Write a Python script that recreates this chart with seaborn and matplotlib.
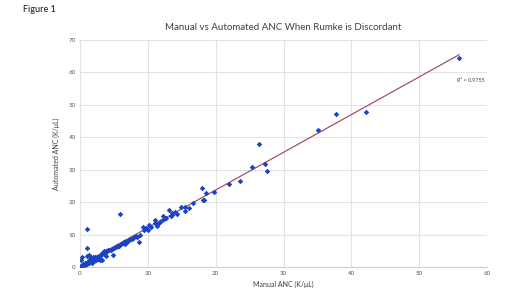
import matplotlib
matplotlib.use("Agg")
import matplotlib.pyplot as plt
import seaborn as sns
import pandas as pd
import numpy as np

manual = [
    0.0, 0.1, 0.15, 0.25, 0.4, 0.5, 0.7, 0.8, 1.0, 1.03, 1.03, 1.1, 1.2, 1.3, 1.3, 1.4,
    1.5, 1.6, 1.7, 1.8, 1.9, 2.0, 2.1, 2.2, 2.3, 2.5, 2.6, 2.8, 2.9, 3.0, 3.1, 3.2,
    3.3, 3.5, 3.6, 3.8, 3.8, 3.9, 4.0, 4.2, 4.3, 4.5, 4.7, 4.93, 5.0, 5.3, 5.5, 5.6,
    5.8, 5.96, 6.1, 6.3, 6.5, 6.6, 6.8, 7.0, 7.2, 7.4, 7.6, 7.8, 8.0, 8.2, 8.4, 8.7,
    8.9, 9.26, 9.5, 9.8, 10.0, 10.2, 10.5, 11.0, 11.0, 11.3, 11.7, 12.0, 12.2, 12.4,
    12.7, 13.1, 13.4, 13.5, 13.6, 14.0, 14.3, 14.9, 15.5, 15.5, 16.0, 16.6, 18.0,
    18.2, 18.3, 18.6, 19.8, 22.0, 23.6, 25.4, 26.4, 27.3, 27.6, 35.1, 37.8, 42.2, 55.9,
]
automated = [
    0.0, 0.3, 2.1, 3.1, 0.5, 1.0, 0.6, 1.2, 3.5, 11.6, 6.0, 0.8, 1.5, 3.7, 2.2, 1.1,
    1.8, 2.8, 1.3, 2.5, 3.1, 1.9, 2.6, 3.2, 2.1, 3.0, 2.4, 3.4, 2.5, 2.2, 3.6, 4.4,
    2.3, 4.1, 4.8, 4.5, 3.3, 4.9, 5.0, 5.3, 5.2, 5.1, 5.6, 3.6, 5.8, 6.2, 6.5, 6.4,
    6.6, 16.4, 7.0, 7.3, 7.6, 7.2, 8.0, 7.8, 8.4, 8.7, 8.5, 9.0, 9.1, 9.6, 9.1, 7.6,
    10.0, 12.2, 11.3, 11.9, 11.5, 12.9, 12.4, 13.5, 14.4, 12.7, 13.5, 14.3, 15.6,
    14.8, 15.2, 17.7, 15.8, 16.5, 16.1, 17.0, 16.2, 18.6, 18.6, 17.4, 18.1, 19.7,
    24.4, 20.7, 20.7, 22.9, 23.0, 25.5, 26.6, 30.9, 37.9, 31.8, 29.5, 42.2, 47.2,
    47.7, 64.6,
]
r2_label = "R² = 0.9755"

df = pd.DataFrame({"manual": manual, "automated": automated})

sns.set_theme(style="whitegrid")
plt.rcParams["font.family"] = ["Lato", "DejaVu Sans"]

fig = plt.figure(figsize=(5.2, 2.92), dpi=100)
ax = fig.add_axes([80 / 520, 25 / 292, 407 / 520, 227 / 292])

sns.scatterplot(data=df, x="manual", y="automated", ax=ax, marker="D", s=8,
                color="#1a44c8", edgecolor="#1a44c8", linewidth=0, zorder=3)
sns.regplot(data=df, x="manual", y="automated", ax=ax, scatter=False, ci=None,
            line_kws={"color": "#a3506e", "lw": 0.9, "zorder": 2})

ax.set_xlim(0, 60)
ax.set_ylim(0, 70)
ax.set_xticks(range(0, 61, 10))
ax.set_yticks(range(0, 71, 10))
ax.tick_params(axis="both", labelsize=4.5, colors="#595959", length=0, pad=3)
ax.grid(True, color="#e3e3e3", linewidth=0.8)
for s in ["top", "right", "left"]:
    ax.spines[s].set_visible(False)
ax.spines["bottom"].set_color("#d0d0d0")
ax.spines["bottom"].set_linewidth(0.8)

ax.set_xlabel("Manual ANC (K/μL)", fontsize=5, color="#404040", labelpad=3)
ax.set_ylabel("Automated ANC (K/μL)", fontsize=5, color="#404040", labelpad=6)

fig.text(283 / 520, 1 - 28 / 292, "Manual vs Automated ANC When Rumke is Discordant",
         ha="center", va="center", fontsize=7, color="#404040")
fig.text(23 / 520, 1 - 10 / 292, "Figure 1", ha="left", va="center", fontsize=6.5,
         color="#202020", fontweight="medium")
ax.text(59.6, 57.5, r2_label, ha="right", va="center", fontsize=3.9, color="#404040")

fig.savefig("out.png", dpi=100, facecolor="white")
